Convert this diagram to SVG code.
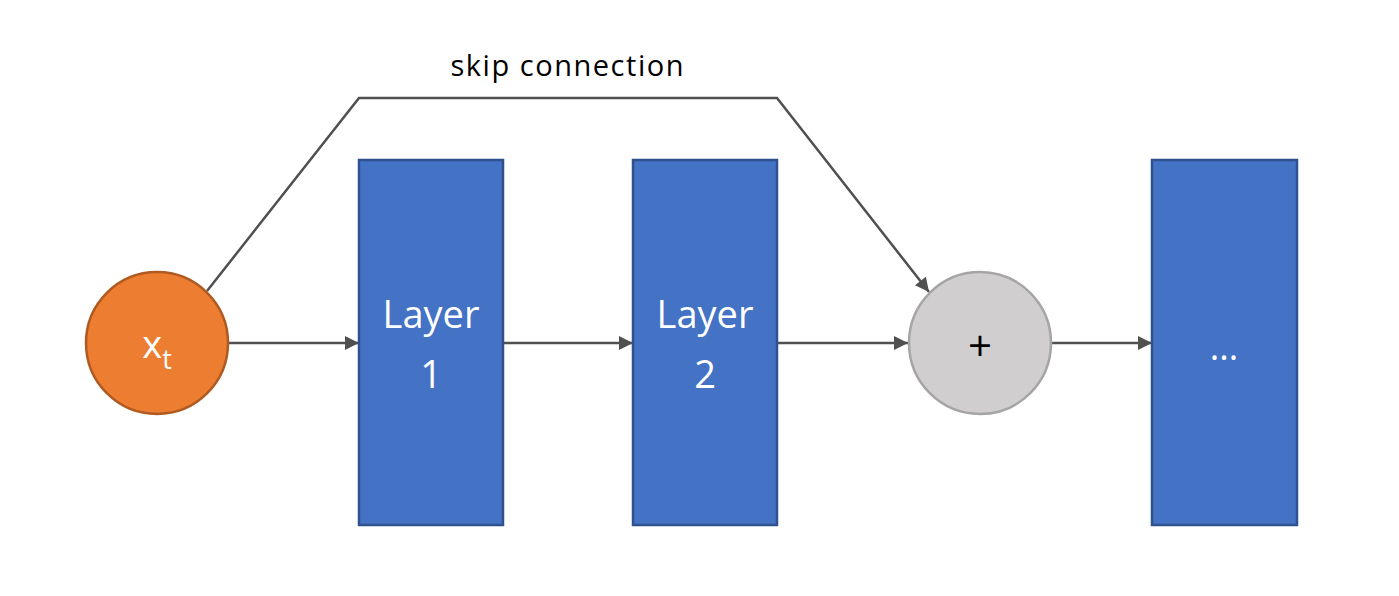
<svg xmlns="http://www.w3.org/2000/svg" width="1399" height="596" viewBox="0 0 1399 596">
<defs>
<style>
.layer{fill:#4472C4;stroke:#2F528F;stroke-width:2.5}
.lbl{font-family:"Open Sans","Liberation Sans",sans-serif;fill:#FFFFFF;text-anchor:middle}
.conn{stroke:#505050;stroke-width:2.5;fill:none}
</style>
<marker id="arr" viewBox="0 0 10 10" refX="10" refY="5" markerWidth="15" markerHeight="14" markerUnits="userSpaceOnUse" orient="auto">
<path d="M0,0 L10,5 L0,10 z" fill="#505050"/>
</marker>
</defs>
<rect width="1399" height="596" fill="#FFFFFF"/>
<g id="connectors">
<line class="conn" x1="229" y1="343" x2="359" y2="343" marker-end="url(#arr)"/>
<line class="conn" x1="503" y1="343" x2="633" y2="343" marker-end="url(#arr)"/>
<line class="conn" x1="777" y1="343" x2="908" y2="343" marker-end="url(#arr)"/>
<line class="conn" x1="1052" y1="343" x2="1152" y2="343" marker-end="url(#arr)"/>
<polyline class="conn" points="207,291 359,98 777,98 929,292" marker-end="url(#arr)"/>
<text x="567" y="76" font-family="'Open Sans','Liberation Sans',sans-serif" font-size="29" fill="#000000" text-anchor="middle" textLength="233" lengthAdjust="spacing">skip connection</text>
</g>
<g id="xt">
<circle cx="157" cy="343" r="71" fill="#ED7D31" stroke="#AE5A21" stroke-width="2.5"/>
<text class="lbl" x="157" y="358" font-size="38">x<tspan font-size="27" dy="11">t</tspan></text>
</g>
<g id="layer1">
<rect class="layer" x="359" y="160" width="144" height="365"/>
<text class="lbl" x="431" y="328" font-size="38">Layer</text>
<text class="lbl" x="431" y="388" font-size="38">1</text>
</g>
<g id="layer2">
<rect class="layer" x="633" y="160" width="144" height="365"/>
<text class="lbl" x="705" y="328" font-size="38">Layer</text>
<text class="lbl" x="705" y="388" font-size="38">2</text>
</g>
<g id="plus">
<circle cx="980" cy="343" r="71" fill="#D0CECE" stroke="#A5A5A5" stroke-width="2.5"/>
<text x="980" y="361" font-family="'Open Sans','Liberation Sans',sans-serif" font-size="42" fill="#000000" text-anchor="middle">+</text>
</g>
<g id="more">
<rect class="layer" x="1152" y="160" width="145" height="365"/>
<text class="lbl" x="1224" y="360" font-size="36">...</text>
</g>
</svg>
